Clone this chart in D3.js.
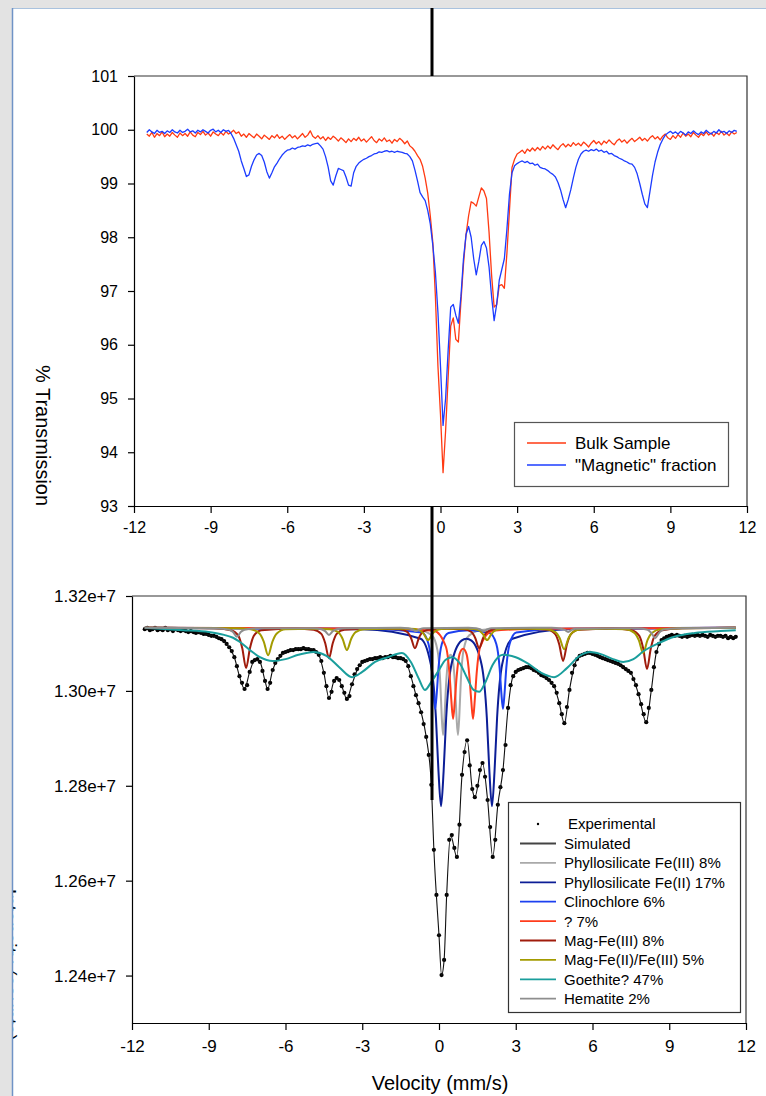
<!DOCTYPE html>
<html><head><meta charset="utf-8">
<script src="https://cdn.jsdelivr.net/npm/d3@7"></script>
<style>
body{margin:0;background:#e3e3e3;}
svg text{font-family:"Liberation Sans",Arial,sans-serif;fill:#000;}
</style>
</head><body>
<svg id="c" width="766" height="1096"></svg>
<script>
// ---------- DATA ----------
const velStart = -11.5, velStep = 0.1;   // channel velocities (mm/s)
const xTicks = [-12,-9,-6,-3,0,3,6,9,12];
const topYTicks = [93,94,95,96,97,98,99,100,101];
const botYTicks = [1.24e7,1.26e7,1.28e7,1.30e7,1.32e7];

// % transmission, top panel
const bulk = [99.92,99.88,99.95,99.86,99.93,99.89,
99.96,99.87,99.92,99.88,99.95,99.9,99.86,99.94,99.89,99.93,
99.88,99.96,99.9,99.87,99.95,99.91,99.97,99.9,99.94,99.88,
99.96,99.92,99.89,99.95,99.9,99.97,99.92,99.95,99.99,99.93,
99.96,99.88,99.92,99.86,99.93,99.89,99.85,99.92,99.88,99.83,
99.9,99.86,99.82,99.89,99.85,99.91,99.84,99.88,99.82,99.87,
99.91,99.85,99.89,99.83,99.88,99.93,99.86,99.9,99.98,99.88,
99.84,99.89,99.83,99.87,99.8,99.86,99.82,99.88,99.84,99.79,
99.85,99.81,99.76,99.83,99.78,99.84,99.8,99.86,99.79,99.83,
99.77,99.82,99.87,99.8,99.76,99.83,99.79,99.85,99.78,99.81,
99.75,99.82,99.78,99.84,99.8,99.74,99.79,99.7,99.66,99.6,
99.52,99.45,99.32,99.1,98.82,98.4,97.9,96.9,95.6,94.7,
93.62,94.4,95.4,96.35,96.5,96.1,96.05,96.8,97.5,98.05,
98.4,98.66,98.63,98.58,98.75,98.92,98.86,98.72,98.1,97.3,
96.7,96.75,97.1,97.12,97.05,97.7,98.5,99.3,99.45,99.55,
99.58,99.62,99.56,99.64,99.6,99.66,99.61,99.67,99.62,99.69,
99.64,99.7,99.65,99.72,99.67,99.63,99.7,99.74,99.68,99.73,
99.69,99.76,99.71,99.75,99.7,99.77,99.73,99.68,99.75,99.8,
99.74,99.78,99.72,99.79,99.75,99.81,99.76,99.72,99.79,99.83,
99.77,99.81,99.75,99.8,99.84,99.78,99.82,99.86,99.8,99.84,
99.79,99.85,99.89,99.83,99.87,99.81,99.88,99.92,99.85,99.82,
99.89,99.84,99.91,99.86,99.94,99.88,99.92,99.87,99.95,99.9,
99.86,99.93,99.89,99.96,99.9,99.94,99.88,99.95,99.91,99.97,
99.9,99.94,99.89,99.96,99.92,99.95];

const magnetic = [99.95,100.0,99.96,99.93,99.99,99.95,
99.97,99.93,99.98,99.95,100.0,99.96,99.94,99.99,99.95,99.97,
100.01,99.96,99.98,99.94,99.99,99.96,100.0,99.97,99.94,99.99,
100.01,99.96,99.99,99.95,100.0,99.97,99.99,99.93,99.84,99.72,
99.6,99.42,99.28,99.13,99.16,99.32,99.44,99.53,99.56,99.52,
99.4,99.22,99.1,99.2,99.31,99.38,99.46,99.53,99.58,99.62,
99.63,99.66,99.64,99.67,99.68,99.7,99.69,99.72,99.7,99.73,
99.74,99.75,99.7,99.64,99.5,99.31,99.05,98.97,99.14,99.28,
99.26,99.24,99.12,98.97,98.95,99.2,99.32,99.38,99.42,99.45,
99.47,99.5,99.52,99.55,99.56,99.59,99.58,99.6,99.61,99.59,
99.6,99.58,99.6,99.59,99.58,99.56,99.55,99.5,99.42,99.25,
99.05,98.83,98.75,98.68,98.5,98.25,97.85,97.35,96.6,95.6,
94.5,95.0,95.9,96.7,96.75,96.55,96.4,96.9,97.6,98.05,
98.2,98.0,97.6,97.3,97.55,97.85,97.92,97.8,97.45,96.9,
96.45,96.75,97.2,97.4,97.6,98.15,98.8,99.2,99.33,99.37,
99.4,99.42,99.39,99.41,99.37,99.38,99.34,99.36,99.3,99.28,
99.27,99.24,99.2,99.17,99.12,99.02,98.88,98.7,98.55,98.7,
98.88,99.1,99.3,99.45,99.55,99.6,99.62,99.6,99.63,99.61,
99.64,99.6,99.62,99.58,99.6,99.55,99.56,99.52,99.5,99.47,
99.45,99.42,99.4,99.37,99.36,99.3,99.18,99.0,98.8,98.62,
98.55,98.85,99.15,99.4,99.58,99.72,99.82,99.9,99.94,99.97,
99.93,99.96,99.92,99.97,99.94,99.9,99.96,99.93,99.98,99.94,
99.91,99.96,99.93,99.99,99.95,99.92,99.97,99.94,100.0,99.95,
99.97,99.93,99.98,99.95,99.99,99.97];

// counts (thousands), bottom panel
const experimentalK = [13130,13133,13128,13130,13133,13128,
13130,13128,13133,13128,13130,13126,13130,13128,13126,13128,
13126,13124,13126,13124,13122,13124,13122,13120,13120,13118,
13116,13116,13114,13111,13109,13105,13099,13092,13084,13071,
13052,13031,13017,13004,13012,13040,13061,13065,13067,13061,
13042,13021,13004,13017,13044,13059,13067,13074,13080,13082,
13084,13086,13086,13088,13088,13088,13090,13088,13088,13086,
13086,13082,13076,13063,13038,13010,12985,12998,13021,13027,
13023,13010,12996,12983,12989,13014,13035,13046,13054,13061,
13063,13065,13067,13067,13069,13069,13071,13069,13071,13071,
13074,13071,13071,13069,13069,13067,13063,13052,13031,13010,
12991,12974,12955,12930,12903,12865,12802,12665,12570,12485,
12401,12433,12570,12686,12696,12669,12650,12718,12823,12871,
12896,12843,12793,12776,12800,12833,12848,12819,12770,12713,
12650,12686,12760,12797,12833,12886,12964,13012,13031,13040,
13044,13046,13048,13050,13050,13048,13044,13042,13038,13033,
13031,13027,13023,13017,13010,12996,12974,12951,12932,12966,
13002,13038,13054,13067,13074,13076,13078,13080,13080,13078,
13076,13074,13071,13069,13067,13065,13063,13061,13059,13057,
13054,13050,13046,13042,13038,13025,13012,12993,12972,12951,
12934,12964,13002,13050,13082,13099,13107,13111,13114,13116,
13118,13116,13118,13116,13114,13116,13114,13116,13118,13116,
13118,13116,13118,13116,13114,13118,13116,13114,13116,13116,
13114,13116,13111,13114,13111,13114];

const simulatedK = [[-11.5,13130],[-10,13128],[-9,13118],[-8.5,13109],[-8.2,13092],[-8.0,13071],[-7.8,13031],[-7.6,13004],[-7.4,13040],[-7.2,13065],[-7.0,13061],[-6.8,13021],[-6.7,13004],[-6.5,13044],[-6.2,13074],[-5.8,13086],[-5.3,13090],[-4.9,13086],[-4.7,13076],[-4.5,13038],[-4.3,12985],[-4.1,13021],[-3.95,13025],[-3.8,13010],[-3.6,12983],[-3.4,13014],[-3.1,13054],[-2.6,13067],[-2.0,13071],[-1.5,13069],[-1.3,13063],[-1.1,13031],[-0.9,12991],[-0.7,12955],[-0.5,12903],[-0.3,12802],[-0.2,12665],[0,12485],[0.1,12401],[0.2,12433],[0.3,12570],[0.45,12696],[0.7,12650],[0.9,12823],[1.1,12896],[1.3,12793],[1.4,12776],[1.7,12848],[1.9,12770],[2.1,12650],[2.3,12760],[2.5,12833],[2.7,12964],[2.9,13031],[3.4,13050],[3.8,13042],[4.2,13027],[4.5,13010],[4.7,12974],[4.9,12932],[5.1,13002],[5.3,13054],[5.5,13074],[5.85,13080],[6.5,13067],[7.2,13050],[7.5,13038],[7.8,12993],[8.1,12934],[8.3,13002],[8.5,13082],[8.8,13111],[9.5,13115],[11.6,13114]];

const phylloIIIK = [[-11.5,13133],[-2,13131],[-0.84,13129],[-0.28,13117],[-0.06,13086],[0.05,13018],[0.105,12948],[0.16,12907],[0.215,12945],[0.27,13008],[0.38,13070],[0.45,13076],[0.52,13070],[0.63,13008],[0.685,12945],[0.74,12907],[0.795,12948],[0.85,13018],[0.96,13086],[1.18,13117],[1.74,13129],[3,13131],[11.6,13133]];
const phylloIIK = [[-11.5,13133],[-3,13130],[-0.72,13110],[-0.32,13056],[-0.12,12943],[-0.02,12830],[0.08,12757],[0.18,12830],[0.28,12943],[0.48,13054],[0.88,13106],[1.07,13110],[1.27,13106],[1.67,13054],[1.87,12943],[1.97,12830],[2.07,12757],[2.17,12830],[2.27,12943],[2.47,13056],[2.87,13110],[5,13130],[11.6,13133]];
const clinoK = [[-11.5,13133],[-3,13131],[-0.67,13123],[-0.41,13099],[-0.28,13048],[-0.215,12997],[-0.15,12962],[-0.085,12997],[-0.02,13048],[0.11,13099],[0.37,13122],[1.17,13128],[1.98,13122],[2.24,13099],[2.37,13048],[2.435,12997],[2.5,12962],[2.565,12997],[2.63,13048],[2.76,13099],[3.02,13123],[5,13131],[11.6,13133]];
const unknownK = [[-11.5,13133],[-2,13131],[-0.2,13127],[0.27,13093],[0.41,13036],[0.48,12982],[0.55,12941],[0.62,12980],[0.69,13030],[0.8,13077],[0.94,13089],[1.08,13077],[1.19,13030],[1.26,12980],[1.33,12941],[1.4,12982],[1.47,13036],[1.61,13093],[2.1,13127],[4,13131],[11.6,13133]];
const magIIIK = [[-11.5,13133],[-8.8,13132],[-8.14,13128],[-7.84,13116],[-7.69,13090],[-7.54,13048],[-7.39,13090],[-7.24,13116],[-6.94,13128],[-5.6,13131],[-4.9,13129],[-4.6,13120],[-4.45,13101],[-4.3,13069],[-4.15,13101],[-4.0,13120],[-3.7,13129],[-2.6,13131],[-1.54,13130],[-1.24,13124],[-1.09,13111],[-0.94,13090],[-0.79,13111],[-0.64,13124],[-0.34,13130],[0.3,13131],[0.97,13130],[1.27,13124],[1.42,13111],[1.57,13090],[1.72,13111],[1.87,13124],[2.17,13130],[3.2,13131],[4.25,13129],[4.55,13119],[4.7,13098],[4.85,13063],[5.0,13098],[5.15,13119],[5.45,13129],[6.8,13131],[7.53,13128],[7.83,13116],[7.98,13090],[8.13,13046],[8.28,13090],[8.43,13116],[8.73,13128],[9.5,13132],[11.6,13133]];
const magIIIIK = [[-11.5,13133],[-8.0,13132],[-7.36,13130],[-7.02,13121],[-6.85,13104],[-6.68,13075],[-6.51,13104],[-6.34,13121],[-6.0,13130],[-5.0,13131],[-4.28,13130],[-3.94,13124],[-3.77,13110],[-3.6,13086],[-3.43,13110],[-3.26,13124],[-2.92,13130],[-2.0,13131],[-1.11,13131],[-0.77,13128],[-0.6,13120],[-0.43,13107],[-0.26,13120],[-0.09,13128],[0.25,13131],[1.2,13131],[1.54,13128],[1.71,13120],[1.88,13107],[2.05,13120],[2.22,13128],[2.56,13131],[3.5,13131],[4.21,13130],[4.55,13124],[4.72,13111],[4.89,13088],[5.06,13111],[5.23,13124],[5.57,13130],[6.5,13131],[7.3,13130],[7.64,13122],[7.81,13107],[7.98,13080],[8.15,13107],[8.32,13122],[8.66,13130],[9.5,13132],[11.6,13133]];
const goethiteK = [[-11.5,13133],[-10,13128],[-9,13124],[-8.4,13118],[-8.05,13112],[-7.78,13103],[-7.39,13086],[-7.0,13071],[-6.5,13063],[-6.0,13067],[-5.5,13076],[-4.9,13082],[-4.4,13074],[-3.9,13050],[-3.4,13029],[-3.0,13040],[-2.5,13061],[-2.0,13071],[-1.45,13080],[-1.1,13061],[-0.8,13027],[-0.55,13002],[-0.3,13019],[0.0,13044],[0.25,13065],[0.5,13071],[0.8,13059],[1.1,13027],[1.35,13002],[1.57,12998],[1.8,13017],[2.1,13055],[2.5,13076],[3.0,13071],[3.5,13057],[4.0,13038],[4.5,13029],[5.0,13048],[5.5,13074],[5.9,13082],[6.3,13078],[6.8,13067],[7.2,13061],[7.6,13067],[8.0,13084],[8.6,13101],[9.2,13114],[10,13122],[11,13126],[11.6,13128]];
const hematiteK = [[-11.5,13133],[-8.7,13132],[-8.2,13129],[-8.05,13124],[-7.9,13114],[-7.75,13124],[-7.6,13129],[-7.1,13132],[-4.9,13132],[-4.6,13130],[-4.45,13126],[-4.3,13118],[-4.15,13126],[-4.0,13130],[-3.6,13132],[-1.5,13133],[-1.2,13132],[-1.05,13130],[-0.9,13126],[-0.75,13130],[-0.6,13132],[1.15,13133],[1.45,13132],[1.6,13130],[1.75,13126],[1.9,13130],[2.05,13132],[4.4,13133],[4.75,13131],[4.9,13129],[5.05,13124],[5.2,13129],[5.35,13131],[7.7,13132],[8.15,13129],[8.3,13122],[8.45,13111],[8.6,13122],[8.75,13129],[9.3,13132],[11.6,13133]];

const topNames = ["Bulk Sample", "\"Magnetic\" fraction"];
const topColors = ["#ff3a12", "#1c3cff"];
const compNames = ["Phyllosilicate Fe(III) 8%","Phyllosilicate Fe(II) 17%","Clinochlore 6%","? 7%","Mag-Fe(III) 8%","Mag-Fe(II)/Fe(III) 5%","Goethite? 47%","Hematite 2%"];
const compColors = ["#a9a9a9","#0c1e96","#1c40f0","#ff3c1c","#a01c0c","#a39b00","#1a9e9c","#8e8e8e"];
const compData = [phylloIIIK, phylloIIK, clinoK, unknownK, magIIIK, magIIIIK, goethiteK, hematiteK];

// ---------- DRAW ----------
const svg = d3.select("#c");
svg.append("rect").attr("width",766).attr("height",1096).attr("fill","#e3e3e3");
svg.append("rect").attr("x",12).attr("y",8).attr("width",754).attr("height",1088).attr("fill","#fff");
// clipped axis title of the lower chart (mostly hidden behind frame, as in the original)
svg.append("text").attr("transform","translate(2,965) rotate(90)").attr("text-anchor","middle")
  .style("font-size","20px").text("Intensity (counts)");
svg.append("rect").attr("x",0).attr("y",0).attr("width",12).attr("height",1096).attr("fill","#e3e3e3");
svg.append("rect").attr("x",0).attr("y",0).attr("width",766).attr("height",8).attr("fill","#e3e3e3");
svg.append("line").attr("x1",12).attr("x2",766).attr("y1",8.5).attr("y2",8.5).attr("stroke","#a9c2de").attr("stroke-width",1);
svg.append("line").attr("x1",12.5).attr("x2",12.5).attr("y1",8).attr("y2",1096).attr("stroke","#6f93c6").attr("stroke-width",1.5);

const vel = i => velStart + i*velStep;
function styleAxis(g, fs){
  g.selectAll("path.domain").attr("stroke","#000").attr("stroke-width",1.2);
  g.selectAll(".tick line").attr("stroke","#000").attr("stroke-width",1.2);
  g.selectAll(".tick text").attr("fill","#000").style("font-size",fs+"px")
   .style("font-family","'Liberation Sans',Arial,sans-serif");
}

// ----- TOP PANEL -----
const xT = d3.scaleLinear([-12,12],[134,747]);
const yT = d3.scaleLinear([93,101],[506,76]);
svg.append("path").attr("d",`M${xT(12)},${yT(93)}V${yT(101)}H${xT(-12)}`).attr("fill","none").attr("stroke","#333").attr("stroke-width",1.2);
const lineT = d3.line().x((d,i)=>xT(vel(i))).y(d=>yT(d));
[bulk, magnetic].forEach((s,k)=>{
  svg.append("path").datum(s).attr("d",lineT).attr("fill","none")
    .attr("stroke",topColors[k]).attr("stroke-width",1.3).attr("stroke-linejoin","round");
});
const gxT = svg.append("g").attr("transform","translate(0,506)")
  .call(d3.axisBottom(xT).tickValues(xTicks).tickFormat(d=>String(d)).tickSize(7).tickSizeOuter(0).tickPadding(9));
styleAxis(gxT,16);
const gyT = svg.append("g").attr("transform","translate(134,0)")
  .call(d3.axisLeft(yT).tickValues(topYTicks).tickFormat(d=>String(d)).tickSize(6).tickSizeOuter(0).tickPadding(10));
styleAxis(gyT,16);
svg.append("text").attr("transform","translate(36,435.5) rotate(90)").attr("text-anchor","middle")
  .style("font-size","20px").text("% Transmission");
// top legend
const lgT = svg.append("g");
lgT.append("rect").attr("x",514.5).attr("y",422.5).attr("width",214).attr("height",64).attr("fill","#fff").attr("stroke","#555").attr("stroke-width",1.2);
topNames.forEach((n,k)=>{
  const y = 443 + k*22;
  lgT.append("line").attr("x1",527).attr("x2",566).attr("y1",y).attr("y2",y).attr("stroke",topColors[k]).attr("stroke-width",1.3);
  lgT.append("text").attr("x",575).attr("y",y+6).style("font-size","17px").text(n);
});

// ----- BOTTOM PANEL -----
const xB = d3.scaleLinear([-12,12],[132,746]);
const yB = d3.scaleLinear([1.23e7,1.32e7],[1023,596]);
svg.append("path").attr("d",`M${xB(12)},${yB(1.23e7)}V${yB(1.32e7)}H${xB(-12)}`).attr("fill","none").attr("stroke","#333").attr("stroke-width",1.2);
// experimental points
svg.append("g").selectAll("circle").data(experimentalK).join("circle")
  .attr("cx",(d,i)=>xB(vel(i))).attr("cy",d=>yB(d*1000)).attr("r",2.1).attr("fill","#000");
// simulated
const lineB = d3.line().x(d=>xB(d[0])).y(d=>yB(d[1]*1000)).curve(d3.curveMonotoneX);
svg.append("path").datum(simulatedK).attr("d",lineB).attr("fill","none").attr("stroke","#111").attr("stroke-width",1.1);
// components
compData.forEach((c,k)=>{
  svg.append("path").datum(c).attr("d",lineB).attr("fill","none")
    .attr("stroke",compColors[k]).attr("stroke-width",2).attr("stroke-linejoin","round");
});
const gxB = svg.append("g").attr("transform","translate(0,1023)")
  .call(d3.axisBottom(xB).tickValues(xTicks).tickFormat(d=>String(d)).tickSize(7).tickSizeOuter(0).tickPadding(10));
styleAxis(gxB,17);
const gyB = svg.append("g").attr("transform","translate(132,0)")
  .call(d3.axisLeft(yB).tickValues(botYTicks).tickFormat(d3.format(".2e")).tickSize(6).tickSizeOuter(0).tickPadding(10));
styleAxis(gyB,17);
svg.append("text").attr("x",440).attr("y",1090).attr("text-anchor","middle").style("font-size","20px").text("Velocity (mm/s)");

// bottom legend
const lgB = svg.append("g");
lgB.append("rect").attr("x",508.5).attr("y",802.5).attr("width",232).attr("height",210).attr("fill","#fff").attr("stroke","#333").attr("stroke-width",1.2);
lgB.append("circle").attr("cx",538).attr("cy",824).attr("r",1.2).attr("fill","#000");
lgB.append("text").attr("x",568).attr("y",829).style("font-size","15px").text("Experimental");
const rows = [["Simulated","#444"]].concat(compNames.map((n,k)=>[n,compColors[k]]));
rows.forEach((r,k)=>{
  const y = 843.5 + k*19.4;
  lgB.append("line").attr("x1",520).attr("x2",556).attr("y1",y).attr("y2",y).attr("stroke",r[1]).attr("stroke-width",1.8);
  lgB.append("text").attr("x",564).attr("y",y+5.5).style("font-size","15px").text(r[0]);
});

// thick vertical separator line (outside the top plot)
svg.append("line").attr("x1",432).attr("x2",432).attr("y1",8).attr("y2",76).attr("stroke","#000").attr("stroke-width",3);
svg.append("line").attr("x1",432).attr("x2",432).attr("y1",507).attr("y2",800).attr("stroke","#000").attr("stroke-width",3);
</script>
</body></html>
